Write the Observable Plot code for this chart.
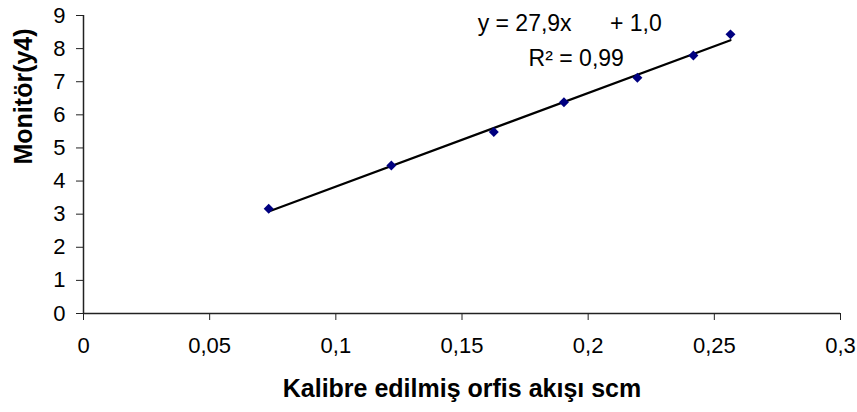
<!DOCTYPE html>
<html>
<head>
<meta charset="utf-8">
<script src="https://cdn.jsdelivr.net/npm/d3@7"></script>
<script src="https://cdn.jsdelivr.net/npm/@observablehq/plot@0.6"></script>
<style>
  html, body { margin: 0; padding: 0; background: #fff; }
  #chart svg { font-family: "Liberation Sans", Arial, sans-serif; }
</style>
</head>
<body>
<div id="chart"></div>
<script>
// Data
const flow = [0.0734, 0.122, 0.1626, 0.1904, 0.2195, 0.2417, 0.2564];
const monitor = [3.16, 4.47, 5.48, 6.38, 7.12, 7.79, 8.43];
const xTicks = [0, 0.05, 0.1, 0.15, 0.2, 0.25, 0.3];
const yTicks = [0, 1, 2, 3, 4, 5, 6, 7, 8, 9];
const equationText = "y = 27,9x\u00a0\u00a0\u00a0\u00a0\u00a0\u00a0+ 1,0";
const r2Text = "R² = 0,99";
const xLabel = "Kalibre edilmiş orfis akışı scm";
const yLabel = "Monitör(y4)";

const points = flow.map((x, i) => ({x, y: monitor[i]}));
const comma = t => String(t).replace(".", ",");

const chart = Plot.plot({
  width: 857,
  height: 412,
  marginLeft: 83,
  marginRight: 17,
  marginTop: 15,
  marginBottom: 99,
  style: {fontFamily: "Liberation Sans, Arial, sans-serif", fontSize: "22px", color: "#000", background: "#fff"},
  x: {domain: [0, 0.3]},
  y: {domain: [0, 9]},
  marks: [
    Plot.axisX({ticks: xTicks, tickFormat: comma, tickSize: 7, tickPadding: 17, fontSize: 22, label: null, stroke: "#222"}),
    Plot.axisY({ticks: yTicks, tickSize: 7, tickPadding: 11, fontSize: 22, label: null, stroke: "#222"}),
    Plot.ruleY([0], {stroke: "#222", strokeWidth: 1.5}),
    Plot.ruleX([0], {stroke: "#222", strokeWidth: 1.5}),
    Plot.linearRegressionY(points, {x: "x", y: "y", ci: 0, stroke: "#000", strokeWidth: 2.2}),
    Plot.dot(points, {x: "x", y: "y", symbol: "diamond2", r: 4.5, fill: "#000080", stroke: "none"}),
    Plot.text([equationText], {x: 0.1562, y: 8.76, textAnchor: "start", fontSize: 23, fill: "#000"}),
    Plot.text([r2Text], {x: 0.1764, y: 7.70, textAnchor: "start", fontSize: 23, fill: "#000"}),
    Plot.text([xLabel], {frameAnchor: "bottom", lineAnchor: "middle", dy: 75, fontSize: 25, fontWeight: "bold", fill: "#000"}),
    Plot.text([yLabel], {frameAnchor: "left", dx: -60, rotate: -90, fontSize: 25, fontWeight: "bold", fill: "#000"})
  ]
});
document.getElementById("chart").appendChild(chart);
</script>
</body>
</html>
